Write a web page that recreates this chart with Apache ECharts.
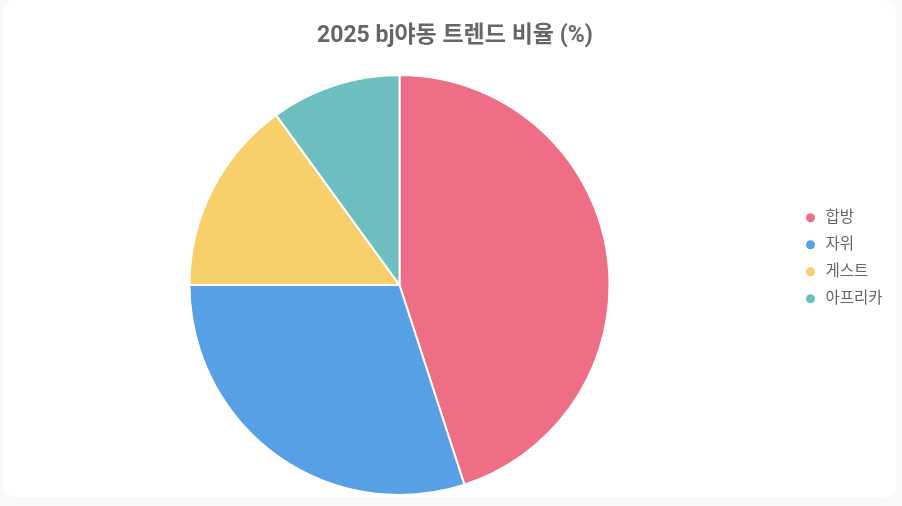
<!DOCTYPE html>
<html>
<head>
<meta charset="utf-8">
<script src="https://cdn.jsdelivr.net/npm/echarts@6/dist/echarts.min.js"></script>
<style>
html,body{margin:0;padding:0;background:#f9f9f9;}
#card{position:absolute;left:3px;top:0;width:893px;height:497px;background:#fff;border-radius:10px;}
#chart{position:absolute;left:0;top:0;width:902px;height:506px;}
</style>
</head>
<body>
<div id="card"></div>
<div id="chart"></div>
<script>
var titleText = '2025 bj야동 트렌드 비율 (%)';
var categories = ['합방', '자위', '게스트', '아프리카'];
var values = [45, 30, 15, 10];
var colors = ['#EE6E85', '#58A0E5', '#F7CF6B', '#6DBFBF'];

var chart = echarts.init(document.getElementById('chart'), null, {renderer: 'canvas'});
var font = 'Roboto, "Noto Sans CJK KR", sans-serif';
chart.setOption({
  backgroundColor: 'transparent',
  title: {
    text: titleText,
    left: 312,
    top: 20,
    textStyle: {fontSize: 23, fontWeight: 'bold', color: '#666', fontFamily: font}
  },
  legend: {
    orient: 'vertical',
    left: 799,
    top: 205,
    icon: 'circle',
    itemWidth: 20,
    itemHeight: 11,
    itemGap: 11.5,
    textStyle: {fontSize: 15.5, color: '#666', fontFamily: font},
    data: categories
  },
  series: [{
    type: 'pie',
    center: [399.5, 285],
    radius: 210,
    startAngle: 90,
    clockwise: true,
    label: {show: false},
    labelLine: {show: false},
    emphasis: {disabled: true},
    animation: false,
    itemStyle: {borderColor: '#fff', borderWidth: 2},
    data: categories.map(function (c, i) {
      return {name: c, value: values[i], itemStyle: {color: colors[i]}};
    })
  }]
});
</script>
</body>
</html>
